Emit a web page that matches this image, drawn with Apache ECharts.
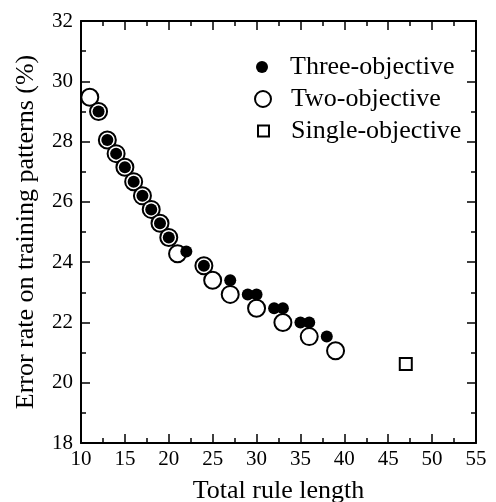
<!DOCTYPE html>
<html>
<head>
<meta charset="utf-8">
<script src="https://cdn.jsdelivr.net/npm/echarts@6/dist/echarts.min.js"></script>
<style>html,body{margin:0;padding:0;background:#fff}#c{width:496px;height:502px}</style>
</head>
<body>
<div id="c"></div>
<script>
var threeX = [12, 13, 14, 15, 16, 17, 18, 19, 20, 22, 24, 27, 29, 30, 32, 33, 35, 36, 38];
var threeY = [29.0, 28.05, 27.6, 27.15, 26.67, 26.2, 25.75, 25.29, 24.82, 24.35, 23.88, 23.4, 22.93, 22.93, 22.47, 22.47, 22.0, 22.0, 21.53];
var twoX = [11, 12, 13, 14, 15, 16, 17, 18, 19, 20, 21, 24, 25, 27, 30, 33, 36, 39];
var twoY = [29.47, 29.0, 28.05, 27.6, 27.15, 26.67, 26.2, 25.75, 25.29, 24.82, 24.28, 23.88, 23.4, 22.93, 22.47, 22.0, 21.53, 21.06];
var singleX = [47];
var singleY = [20.62];
var names = ['Three-objective', 'Two-objective', 'Single-objective'];
var xTitle = 'Total rule length';
var yTitle = 'Error rate on training patterns (%)';

function pairs(xs, ys) { return xs.map(function (x, i) { return [x, ys[i]]; }); }

var FONT = '"Liberation Serif", "Times New Roman", serif';
var chart = echarts.init(document.getElementById('c'));

function xAx(pos, show) {
  return {
    type: 'value', min: 10, max: 55, interval: 5, position: pos,
    name: show ? xTitle : '', nameLocation: 'middle', nameGap: 35,
    nameTextStyle: { fontFamily: FONT, fontSize: 26, color: '#000' },
    axisLine: { show: true, onZero: false, lineStyle: { color: '#000', width: 2 } },
    axisTick: { show: true, inside: true, length: 9, lineStyle: { color: '#000', width: 1.5 } },
    minorTick: { show: true, splitNumber: 2, length: 5, lineStyle: { color: '#000', width: 1.5 } },
    axisLabel: { show: show, fontFamily: FONT, fontSize: 21, color: '#000', margin: 6 },
    splitLine: { show: false }, minorSplitLine: { show: false }
  };
}
function yAx(pos, show) {
  return {
    type: 'value', min: 18, max: 32, interval: 2, position: pos,
    name: show ? yTitle : '', nameLocation: 'middle', nameGap: 42,
    nameTextStyle: { fontFamily: FONT, fontSize: 26, color: '#000' },
    axisLine: { show: true, onZero: false, lineStyle: { color: '#000', width: 2 } },
    axisTick: { show: true, inside: true, length: 9, lineStyle: { color: '#000', width: 1.5 } },
    minorTick: { show: true, splitNumber: 2, length: 5, lineStyle: { color: '#000', width: 1.5 } },
    axisLabel: { show: show, fontFamily: FONT, fontSize: 21, color: '#000', margin: 8 },
    splitLine: { show: false }, minorSplitLine: { show: false }
  };
}

function legendAt(name, top, w, left) {
  return {
    data: [name], orient: 'vertical', left: left, top: top,
    itemWidth: w, itemHeight: w, itemGap: 0, padding: 0,
    textStyle: { fontFamily: FONT, fontSize: 26, color: '#000', lineHeight: 30, padding: [0, 0, 0, 290 - (left + w + 5)] }
  };
}

chart.setOption({
  animation: false,
  backgroundColor: '#fff',
  grid: { left: 81, right: 20, top: 21, bottom: 59, containLabel: false, outerBoundsMode: 'none' },
  legend: [
    legendAt(names[0], 52, 12, 256),
    legendAt(names[1], 84, 16, 254),
    legendAt(names[2], 116, 11, 257)
  ],
  xAxis: [xAx('bottom', true), xAx('top', false)],
  yAxis: [yAx('left', true), yAx('right', false)],
  series: [
    {
      name: names[1], type: 'scatter', symbol: 'circle', symbolSize: 17,
      data: pairs(twoX, twoY),
      itemStyle: { color: '#fff', borderColor: '#000', borderWidth: 2, opacity: 1 },
      z: 2
    },
    {
      name: names[0], type: 'scatter', symbol: 'circle', symbolSize: 12,
      data: pairs(threeX, threeY),
      itemStyle: { color: '#000', borderColor: '#000', borderWidth: 0, opacity: 1 },
      z: 3
    },
    {
      name: names[2], type: 'scatter', symbol: 'rect', symbolSize: 12,
      data: pairs(singleX, singleY),
      itemStyle: { color: '#fff', borderColor: '#000', borderWidth: 2, opacity: 1 },
      z: 3
    }
  ]
});
</script>
</body>
</html>
